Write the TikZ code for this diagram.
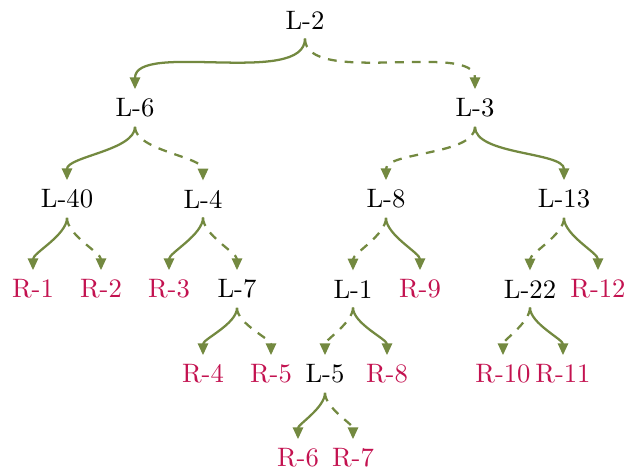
\documentclass[tikz,border=0pt]{standalone}
\usetikzlibrary{arrows.meta}
\definecolor{edgegreen}{RGB}{115,137,64}
\definecolor{leafred}{RGB}{195,18,80}
\begin{document}
\begin{tikzpicture}[x=0.375pt,y=-0.375pt,
  inode/.style={text=black},
  leaf/.style={text=leafred},
  yes/.style={draw=edgegreen,line width=0.85pt,-{Triangle[width=3.8pt,length=4.4pt]}},
  no/.style={yes,dash pattern=on 3.3pt off 3pt},
  curve/.style={out=-90,in=90,looseness=0.7}]
\useasboundingbox (0,0) rectangle (635,472);
% level 0
\node[inode] (L2) at (305,20) {L-2};
% level 1
\node[inode] (L6) at (135,108) {L-6};
\node[inode] (L3) at (475,108) {L-3};
% level 2
\node[inode] (L40) at (67,199) {L-40};
\node[inode] (L4) at (203,199) {L-4};
\node[inode] (L8) at (386,199) {L-8};
\node[inode] (L13) at (564,199) {L-13};
% level 3
\node[leaf] (R1) at (33,289) {R-1};
\node[leaf] (R2) at (101,289) {R-2};
\node[leaf] (R3) at (169,289) {R-3};
\node[inode] (L7) at (237,289) {L-7};
\node[inode] (L1) at (353,289) {L-1};
\node[leaf] (R9) at (420,289) {R-9};
\node[inode] (L22) at (530,289) {L-22};
\node[leaf] (R12) at (598,289) {R-12};
% level 4
\node[leaf] (R4) at (203,374) {R-4};
\node[leaf] (R5) at (271,374) {R-5};
\node[inode] (L5) at (325,374) {L-5};
\node[leaf] (R8) at (387,374) {R-8};
\node[leaf] (R10) at (503,374) {R-10};
\node[leaf] (R11) at (563,374) {R-11};
% level 5
\node[leaf] (R6) at (298,458) {R-6};
\node[leaf] (R7) at (353,458) {R-7};
% edges
\draw[yes] (L2.south) to[curve] (L6.north);
\draw[no]  (L2.south) to[curve] (L3.north);
\draw[yes] (L6.south) to[curve] (L40.north);
\draw[no]  (L6.south) to[curve] (L4.north);
\draw[no]  (L3.south) to[curve] (L8.north);
\draw[yes] (L3.south) to[curve] (L13.north);
\draw[yes] (L40.south) to[curve] (R1.north);
\draw[no]  (L40.south) to[curve] (R2.north);
\draw[yes] (L4.south) to[curve] (R3.north);
\draw[no]  (L4.south) to[curve] (L7.north);
\draw[no]  (L8.south) to[curve] (L1.north);
\draw[yes] (L8.south) to[curve] (R9.north);
\draw[no]  (L13.south) to[curve] (L22.north);
\draw[yes] (L13.south) to[curve] (R12.north);
\draw[yes] (L7.south) to[curve] (R4.north);
\draw[no]  (L7.south) to[curve] (R5.north);
\draw[no]  (L1.south) to[curve] (L5.north);
\draw[yes] (L1.south) to[curve] (R8.north);
\draw[no]  (L22.south) to[curve] (R10.north);
\draw[yes] (L22.south) to[curve] (R11.north);
\draw[yes] (L5.south) to[curve] (R6.north);
\draw[no]  (L5.south) to[curve] (R7.north);
\end{tikzpicture}
\end{document}
